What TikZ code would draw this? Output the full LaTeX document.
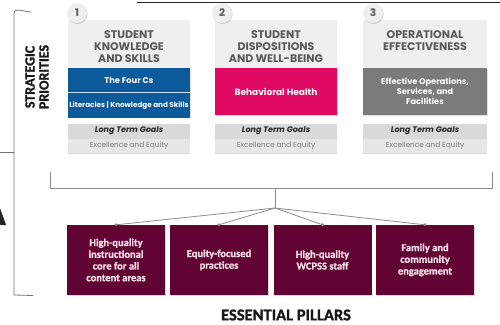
\documentclass[tikz,border=0pt]{standalone}
\usepackage{fontspec}
\setmainfont{Carlito}[BoldFeatures={FakeBold=1.3}]
\newfontfamily\pop{Poppins}
\usetikzlibrary{shadows}
\definecolor{boxgray}{HTML}{EFEFEF}
\definecolor{titletxt}{HTML}{595959}
\definecolor{fourblue}{HTML}{0B5A9C}
\definecolor{bhpink}{HTML}{E00A62}
\definecolor{opgray}{HTML}{7B7B7B}
\definecolor{ltggray}{HTML}{D9D9D9}
\definecolor{excgray}{HTML}{E7E7E7}
\definecolor{exctxt}{HTML}{7A7A7A}
\definecolor{maroon}{HTML}{610434}
\definecolor{pilltxt}{HTML}{F3DCE6}
\definecolor{linegray}{HTML}{8C8C8C}
\definecolor{numgray}{HTML}{5A5A5A}
\begin{document}
\begin{tikzpicture}[x=1pt,y=-1pt,
  cell/.style={rectangle,inner sep=0pt,align=center,minimum width=122pt},
  titlebox/.style={cell,fill=boxgray,minimum height=48pt},
  titletext/.style={inner sep=0pt,align=center,text=titletxt,
    font=\pop\bfseries\fontsize{11}{12}\selectfont},
  colorbox/.style={cell,fill=#1,text=white,font=\pop\bfseries\fontsize{8.3}{10}\selectfont,
    drop shadow={shadow xshift=0.6pt,shadow yshift=-0.8pt,opacity=0.25}},
  ltgbox/.style={cell,fill=ltggray,minimum height=14pt,text=black!85,
    font=\pop\bfseries\itshape\fontsize{8}{8}\selectfont,
    drop shadow={shadow xshift=0pt,shadow yshift=-0.8pt,opacity=0.3}},
  excbox/.style={cell,fill=excgray,minimum height=14pt,text=exctxt,
    font=\pop\fontsize{7.3}{8}\selectfont,
    drop shadow={shadow xshift=0pt,shadow yshift=-0.8pt,opacity=0.3}},
  numcirc/.style={circle,fill=boxgray,minimum size=20pt,inner sep=0pt,text=numgray,
    font=\pop\bfseries\fontsize{10.5}{10}\selectfont,
    drop shadow={shadow xshift=0.6pt,shadow yshift=-0.9pt,opacity=0.35}},
  pillar/.style={rectangle,fill=maroon,minimum width=98pt,minimum height=70pt,inner sep=0pt,
    align=center,text=pilltxt,font=\bfseries\fontsize{10.5}{11.7}\selectfont,
    drop shadow={shadow xshift=0.6pt,shadow yshift=-0.8pt,opacity=0.3}},
  conn/.style={draw=linegray,line width=0.9pt},
  dot/.style={circle,fill=linegray,inner sep=0pt,minimum size=3.2pt}
]
\useasboundingbox (0,0) rectangle (500,324);
% top rule and left bracket
\coordinate (tl) at (137,2); \coordinate (tr) at (500,2);
\draw[line width=1pt,black!85] (tl) -- (tr);
\coordinate (b1) at (31,12); \coordinate (b2) at (14,13.5);
\coordinate (b3) at (14,295); \coordinate (b4) at (33,295.5);
\coordinate (bm) at (14,152); \coordinate (bm0) at (0,152);
\draw[line width=0.8pt,black!55] (b1) to[out=180,in=90] (b2) -- (b3) -- (b4);
\draw[line width=0.8pt,black!55] (bm0) -- (bm);
% cut-off letter at left edge
\node[font=\bfseries\fontsize{40}{40}\selectfont,text=black!85,anchor=east,inner sep=0pt] (cutA) at (6,212) {A};
% side label
\node[rotate=90,align=center,font=\bfseries\fontsize{14}{14}\selectfont,text=black!90] (sp) at (37,77) {STRATEGIC\\PRIORITIES};

% column 1
\node[titlebox] (t1) at (129,44) {};
\node[titletext] (tt1) at (129,47) {STUDENT\\KNOWLEDGE\\AND SKILLS};
\node[colorbox=fourblue,minimum height=24.5pt] (c1a) at (129,80.25) {The Four Cs};
\node[colorbox=fourblue,minimum height=24.5pt,font=\pop\bfseries\fontsize{7.2}{8}\selectfont] (c1b) at (129,105.25) {Literacies | Knowledge and Skills};
\draw[white!80!fourblue,line width=0.8pt] (c1b.north west) -- (c1b.north east);
\node[ltgbox] (l1) at (129,131) {Long Term Goals};
\node[excbox] (e1) at (129,146) {Excellence and Equity};
\node[numcirc] (n1) at (77,13) {1};

% column 2
\node[titlebox] (t2) at (276,44) {};
\node[titletext] (tt2) at (276,47) {STUDENT\\DISPOSITIONS\\AND WELL-BEING};
\node[colorbox=bhpink,minimum height=47pt,font=\pop\bfseries\fontsize{9}{10}\selectfont] (c2) at (276,91.5) {Behavioral Health};
\node[ltgbox] (l2) at (276,131) {Long Term Goals};
\node[excbox] (e2) at (276,146) {Excellence and Equity};
\node[numcirc] (n2) at (222,13) {2};

% column 3
\node[titlebox,minimum width=124pt] (t3) at (425,44) {};
\node[titletext] (tt3) at (425,41) {OPERATIONAL\\EFFECTIVENESS};
\node[colorbox=opgray,minimum width=124pt,minimum height=47pt,font=\pop\bfseries\fontsize{8.2}{10}\selectfont] (c3) at (425,91.5) {Effective Operations,\\Services, and\\Facilities};
\node[ltgbox,minimum width=124pt] (l3) at (425,131) {Long Term Goals};
\node[excbox,minimum width=124pt] (e3) at (425,146) {Excellence and Equity};
\node[numcirc] (n3) at (373,13) {3};

% pillars
\node[pillar] (p1) at (116,260) {High-quality\\instructional\\core for all\\content areas};
\node[pillar] (p2) at (219,260) {Equity-focused\\practices};
\node[pillar] (p3) at (322.5,260) {High-quality\\WCPSS staff};
\node[pillar] (p4) at (425,260) {Family and\\community\\engagement};
\node[font=\bfseries\fontsize{16.5}{16}\selectfont,text=black!90] (ep) at (286,315) {ESSENTIAL PILLARS};

% lower bracket and fan
\coordinate (k1) at (50,172); \coordinate (k2) at (50,188);
\coordinate (k3) at (492,188); \coordinate (k4) at (492,172);
\coordinate (stem) at (275,188); \coordinate (hub) at (275,208);
\draw[conn] (k1) -- (k2) -- (k3) -- (k4);
\draw[conn] (stem) -- (hub);
\foreach \p in {p1,p2,p3,p4}{
  \draw[conn,line width=0.8pt] (hub) -- (\p.north);
  \node[dot] at (\p.north) {};
}
\end{tikzpicture}
\end{document}
